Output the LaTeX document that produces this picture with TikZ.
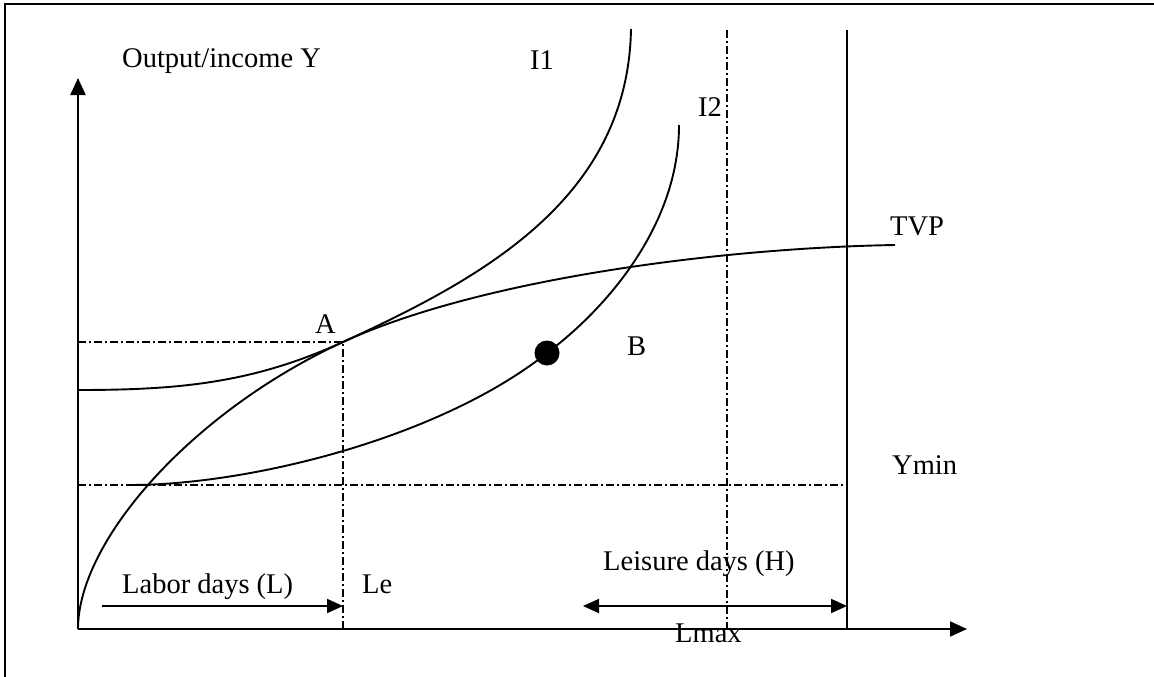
\documentclass[tikz,border=0pt]{standalone}
\usepackage{fontspec}
\setmainfont{Liberation Serif}
\usetikzlibrary{arrows.meta}
\tikzset{
  axisline/.style={line width=2.2pt, -{Triangle[length=17pt,width=15pt]}},
  curveline/.style={line width=1.9pt},
  guideline/.style={line width=1.8pt, dash pattern=on 8pt off 3pt on 2pt off 3pt},
  spanarrow/.style={line width=1.9pt, {Triangle[length=16pt,width=14pt]}-{Triangle[length=16pt,width=14pt]}},
  lbl/.style={anchor=base west, inner sep=0pt, font=\fontsize{28.5}{32}\selectfont}
}
\begin{document}
\begin{tikzpicture}[x=1pt, y=-1pt]
    \useasboundingbox (0,0) rectangle (1154,677);
    % Frame (cut at right and bottom)
    \begin{scope}
      \clip (0,0) rectangle (1154,677);
      \draw[line width=2.2pt] (5,690) -- (5,4) -- (1170,4);
    \end{scope}

    % Define key points
    \coordinate (O) at (78,629);
    \coordinate (ytop) at (78,78);
    \coordinate (xend) at (967,629);
    \coordinate (A) at (343,342);
    \coordinate (B) at (547,353);
    \coordinate (yA) at (78,342);
    \coordinate (xA) at (343,629);
    \coordinate (ymin0) at (78,485);
    \coordinate (ymin1) at (843,485);
    \coordinate (lmaxtop) at (727,30);
    \coordinate (lmaxbot) at (727,629);
    \coordinate (captop) at (847,30);
    \coordinate (capbot) at (847,629);
    \coordinate (labL) at (102,606);
    \coordinate (labR) at (343,606);
    \coordinate (leiL) at (583,606);
    \coordinate (leiR) at (847,606);

    % Axes
    \draw[axisline] (O) -- (ytop);
    \draw[axisline] (O) -- (xend);

    % Guide lines
    \draw[guideline] (yA) -- (A) -- (xA);
    \draw[guideline] (ymin0) -- (ymin1);
    \draw[guideline] (lmaxtop) -- (lmaxbot);
    \draw[curveline] (captop) -- (capbot);

    % TVP curve
    \draw[curveline] (O) .. controls (78,540) and (193,411) .. (A)
                         .. controls (480,279) and (720,248) .. (895,245);
    % Indifference curves
    \draw[curveline] (78,390) .. controls (180,390) and (253,383) .. (A)
                              .. controls (480,279) and (628,200) .. (631,29);
    \draw[curveline] (130,485) .. controls (250,485) and (440,438) .. (B)
                               .. controls (607,308) and (679,225) .. (679,125);
    \fill (B) circle (12.5pt);

    % Day spans
    \draw[line width=1.9pt, -{Triangle[length=16pt,width=14pt]}] (labL) -- (labR);
    \draw[spanarrow] (leiL) -- (leiR);

    % Labels
    \node[lbl] (ylab) at (122,67) {Output/income Y};
    \node[lbl] (i1) at (530,70) {I1};
    \node[lbl] (i2) at (698,117) {I2};
    \node[lbl] (tvp) at (890,235) {TVP};
    \node[lbl] (alab) at (315,333) {A};
    \node[lbl] (blab) at (627,355) {B};
    \node[lbl] (ymin) at (892,474) {Ymin};
    \node[lbl] (labor) at (122,593) {Labor days (L)};
    \node[lbl] (le) at (362,593) {Le};
    \node[lbl] (leisure) at (603,570) {Leisure days (H)};
    \node[lbl] (lmax) at (675,642) {Lmax};
\end{tikzpicture}
\end{document}
